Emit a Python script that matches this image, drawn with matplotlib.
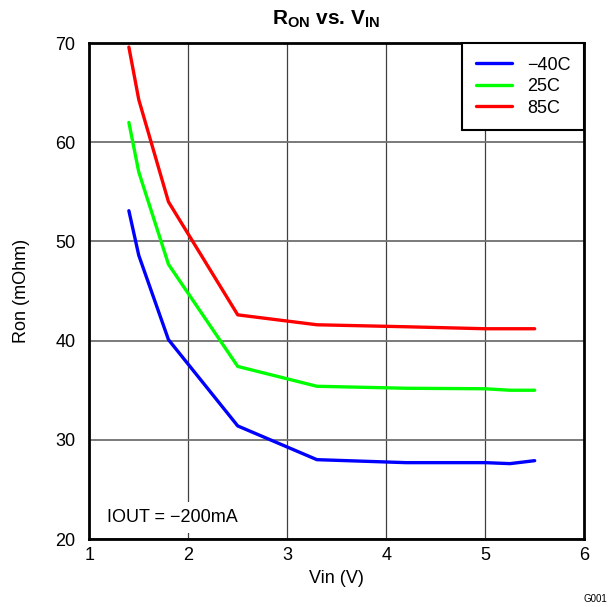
import matplotlib
matplotlib.use("agg")
import matplotlib.pyplot as plt

plt.rcParams['font.family'] = ['Liberation Sans', 'DejaVu Sans']
plt.rcParams['mathtext.fontset'] = 'custom'
plt.rcParams['mathtext.rm'] = 'Liberation Sans'
plt.rcParams['mathtext.bf'] = 'Liberation Sans:bold'

# supply voltage sweep (V)
vin = [1.4, 1.5, 1.8, 2.5, 3.3, 4.2, 5.0, 5.25, 5.5]

# on-resistance (mOhm) per temperature
ron_m40 = [53.1, 48.6, 40.1, 31.4, 28.0, 27.7, 27.7, 27.6, 27.9]
ron_25 = [62.0, 57.0, 47.7, 37.4, 35.4, 35.2, 35.15, 35.0, 35.0]
ron_85 = [69.6, 64.3, 54.0, 42.6, 41.6, 41.4, 41.2, 41.2, 41.2]

labels = ['\u221240C', '25C', '85C']
colors = ['#0000ff', '#00ff00', '#ff0000']

fig = plt.figure(figsize=(6.09, 6.07), dpi=100)
ax = fig.add_axes([0.1466, 0.112, 0.8126, 0.817])

for ys, lab, col in zip([ron_m40, ron_25, ron_85], labels, colors):
    ax.plot(vin, ys, color=col, lw=2.4, label=lab, solid_capstyle='round')

ax.set_xlim(1, 6)
ax.set_ylim(20, 70)
ax.set_xticks(range(1, 7))
ax.set_yticks(range(20, 71, 10))
ax.tick_params(length=0, labelsize=13)
ax.tick_params(axis='y', pad=10)
ax.tick_params(axis='x', pad=6)

ax.grid(axis='x', color='#404040', lw=0.9)
ax.grid(axis='y', color='#707070', lw=1.3)
ax.set_axisbelow(True)
for s in ax.spines.values():
    s.set_linewidth(2)

fig.text(326 / 609, 1 - 19 / 607, r'R$_{\mathbf{ON}}$ vs. V$_{\mathbf{IN}}$',
         fontsize=15, fontweight='bold', ha='center', va='center')
ax.set_xlabel('Vin (V)', fontsize=13, labelpad=4)
ax.set_ylabel('Ron (mOhm)', fontsize=13, labelpad=18)

leg = ax.legend(loc='upper right', fontsize=13, fancybox=False, framealpha=1,
                edgecolor='black', borderaxespad=0, handlelength=2.0,
                labelspacing=0.25, borderpad=0.75, handletextpad=0.85)
leg.get_frame().set_linewidth(1.5)

ax.text(1.18, 22.2, 'IOUT = \u2212200mA', fontsize=13, ha='left', va='center',
        bbox=dict(facecolor='white', edgecolor='none', pad=5))

fig.text(0.997, 0.005, 'G001', fontsize=7, ha='right', va='bottom')

plt.savefig('out.png', dpi=100)
